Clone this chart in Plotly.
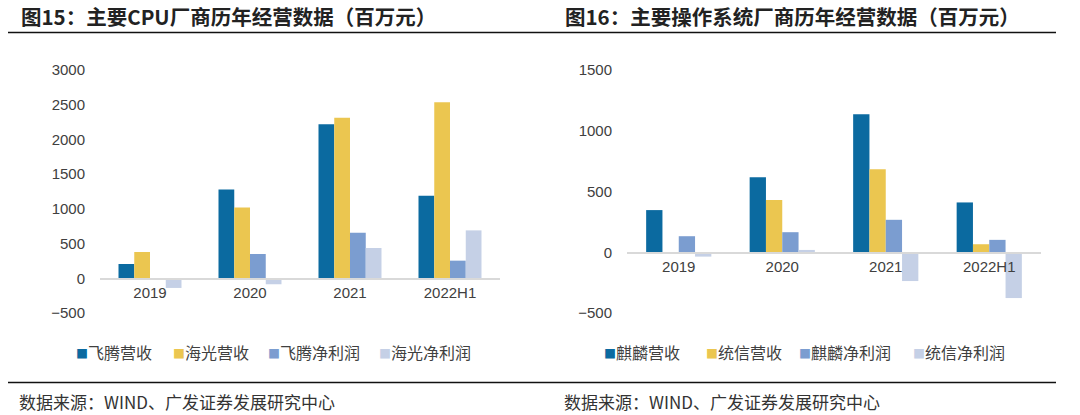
import plotly.graph_objects as go

categories = ["2019", "2020", "2021", "2022H1"]

# Figure 15: CPU vendors (million yuan)
cpu_series_names = ["飞腾营收", "海光营收", "飞腾净利润", "海光净利润"]
feiteng_revenue = [206, 1279, 2218, 1188]
hygon_revenue = [379, 1021, 2314, 2535]
feiteng_profit = [None, 350, 656, 254]
hygon_profit = [-139, -86, 436, 690]

# Figure 16: OS vendors (million yuan)
os_series_names = ["麒麟营收", "统信营收", "麒麟净利润", "统信净利润"]
kylin_revenue = [347, 617, 1135, 410]
uos_revenue = [None, 430, 683, 66]
kylin_profit = [132, 165, 267, 102]
uos_profit = [-36, 19, -237, -377]

colors = ["#0b6aa0", "#ebc650", "#7b9dd0", "#c5d0e6"]

cpu_values = [feiteng_revenue, hygon_revenue, feiteng_profit, hygon_profit]
os_values = [kylin_revenue, uos_revenue, kylin_profit, uos_profit]

W, H = 1080, 415
def fy(px):
    return 1 - px / H
def fx(px):
    return px / W

y_top, y_bot = 70, 313
left_range = [-500, 3000]
right_range = [-500, 1500]

fig = go.Figure()
for name, vals, c in zip(cpu_series_names, cpu_values, colors):
    fig.add_trace(go.Bar(x=categories, y=vals, name=name, marker_color=c,
                         marker_line_width=0, xaxis="x", yaxis="y", showlegend=False))
for name, vals, c in zip(os_series_names, os_values, colors):
    fig.add_trace(go.Bar(x=categories, y=vals, name=name, marker_color=c,
                         marker_line_width=0, xaxis="x2", yaxis="y2", showlegend=False))

dom_y = [fy(y_bot), fy(y_top)]
def zero_pos(rng):
    return dom_y[0] + (0 - rng[0]) / (rng[1] - rng[0]) * (dom_y[1] - dom_y[0])

tickfont = dict(family="Liberation Sans, Arial, sans-serif", size=15, color="#404040")

fig.update_layout(
    width=W, height=H,
    margin=dict(l=0, r=0, t=0, b=0, autoexpand=False),
    paper_bgcolor="white", plot_bgcolor="white",
    barmode="group", bargap=0.37, bargroupgap=0,
    font=dict(family="Noto Sans CJK SC, sans-serif", color="#333333"),
    showlegend=False,
    xaxis=dict(domain=[fx(100), fx(500)], anchor="free", position=zero_pos(left_range),
               showline=True, linecolor="#d9d9d9", linewidth=1.5, showgrid=False,
               ticks="", tickfont=tickfont, automargin=False),
    yaxis=dict(domain=dom_y, range=left_range, tickvals=[-500, 0, 500, 1000, 1500, 2000, 2500, 3000],
               showgrid=False, zeroline=False, showline=False, tickfont=tickfont,
               ticklabelstandoff=14, anchor="x", automargin=False),
    xaxis2=dict(domain=[fx(627), fx(1041)], anchor="free", position=zero_pos(right_range),
                showline=True, linecolor="#d9d9d9", linewidth=1.5, showgrid=False,
                ticks="", tickfont=tickfont, automargin=False),
    yaxis2=dict(domain=dom_y, range=right_range, tickvals=[-500, 0, 500, 1000, 1500],
                showgrid=False, zeroline=False, showline=False, tickfont=tickfont,
                ticklabelstandoff=14, anchor="x2", automargin=False),
)

# Legends (square swatch + label), built from series names and colours
legend_font = dict(family="Noto Sans CJK SC, sans-serif", size=16, color="#404040")
left_legend_x = [74, 171, 266, 377]
right_legend_x = [602, 704, 797, 911]
for names, xs in ((cpu_series_names, left_legend_x), (os_series_names, right_legend_x)):
    for name, c, xpx in zip(names, colors, xs):
        fig.add_annotation(
            text=f"<span style='color:{c};font-size:12px'>■</span>{name}",
            x=fx(xpx), y=fy(352), xref="paper", yref="paper",
            xanchor="left", yanchor="middle", showarrow=False, font=legend_font)

title_font = dict(family="Noto Sans CJK SC, sans-serif", size=20.5, color="#222222")
fig.add_annotation(text="<b>图15：主要CPU厂商历年经营数据（百万元）</b>", x=fx(19), y=fy(16),
                   xref="paper", yref="paper", xanchor="left", yanchor="middle",
                   showarrow=False, font=title_font)
fig.add_annotation(text="<b>图16：主要操作系统厂商历年经营数据（百万元）</b>", x=fx(563), y=fy(16),
                   xref="paper", yref="paper", xanchor="left", yanchor="middle",
                   showarrow=False, font=title_font)

src_font = dict(family="Noto Sans CJK SC, sans-serif", size=17, color="#333333")
fig.add_annotation(text="数据来源：WIND、广发证券发展研究中心", x=fx(17), y=fy(401),
                   xref="paper", yref="paper", xanchor="left", yanchor="middle",
                   showarrow=False, font=src_font)
fig.add_annotation(text="数据来源：WIND、广发证券发展研究中心", x=fx(562), y=fy(401),
                   xref="paper", yref="paper", xanchor="left", yanchor="middle",
                   showarrow=False, font=src_font)

for ypx in (32.5, 382.5):
    fig.add_shape(type="line", xref="paper", yref="paper", x0=fx(8), x1=fx(1056),
                  y0=fy(ypx), y1=fy(ypx), line=dict(color="#111111", width=1.5))

# Remove the browser's default 8px body margin so the figure fills the window
fig.write_html("out.html", config={"displayModeBar": False, "staticPlot": True},
               post_script="document.body.style.margin='0';document.body.style.overflow='hidden';")
